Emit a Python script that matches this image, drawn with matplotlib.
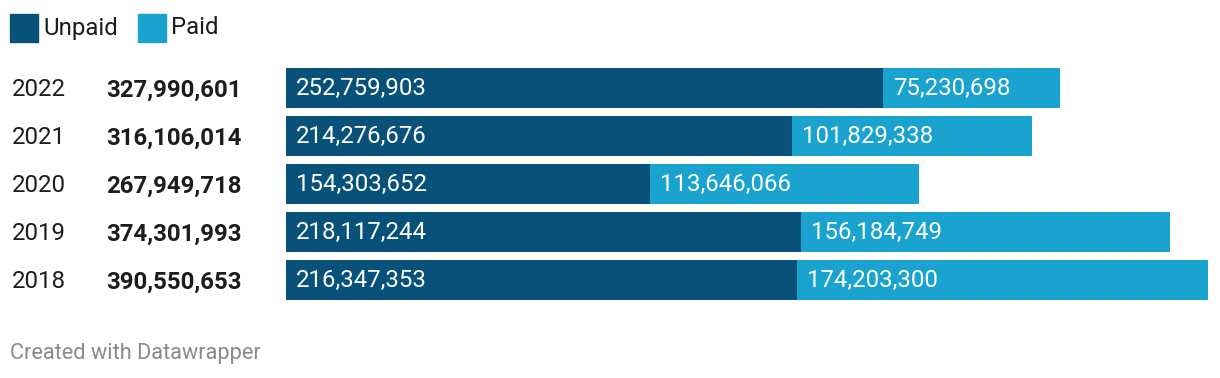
import matplotlib.pyplot as plt
from matplotlib.patches import Rectangle

plt.rcParams['font.family'] = ['Roboto', 'DejaVu Sans']

years = ['2022', '2021', '2020', '2019', '2018']
unpaid = [252759903, 214276676, 154303652, 218117244, 216347353]
paid = [75230698, 101829338, 113646066, 156184749, 174203300]
totals = [u + p for u, p in zip(unpaid, paid)]

dark = '#08527a'
light = '#1aa3cf'

W, H = 1220, 378
fig = plt.figure(figsize=(W / 100, H / 100), dpi=100)

# bar area in pixels
x0, x1 = 286, 1208
y_top, y_bot = 64, 304
ax = fig.add_axes([x0 / W, 1 - y_bot / H, (x1 - x0) / W, (y_bot - y_top) / H])
ax.set_xlim(0, max(totals))
ax.set_ylim(len(years) - 0.5, -0.5)
ax.axis('off')

ypos = range(len(years))
ax.barh(ypos, unpaid, height=0.83, color=dark)
ax.barh(ypos, paid, left=unpaid, height=0.83, color=light)

pad = max(totals) * 10 / (x1 - x0)
fs = 17.3
for i, (u, p) in enumerate(zip(unpaid, paid)):
    ax.text(pad, i, f'{u:,}', color='white', fontsize=fs, va='center', ha='left')
    ax.text(u + pad, i, f'{p:,}', color='white', fontsize=fs, va='center', ha='left')
    yf = 1 - (90 + 48 * i) / H
    fig.text(12 / W, yf, years[i], fontsize=fs, color='#1d1d1d', va='center')
    fig.text(106 / W, yf, f'{totals[i]:,}', fontsize=fs, color='#1d1d1d',
             va='center', fontweight='bold')

# legend
for lx, label, col in [(10, 'Unpaid', dark), (138, 'Paid', light)]:
    fig.patches.append(Rectangle((lx / W, 1 - 42 / H), 28 / W, 28 / H,
                                 transform=fig.transFigure, color=col))
    fig.text((lx + 33) / W, 1 - 28 / H, label, fontsize=fs, color='#1d1d1d', va='center')

fig.text(10 / W, 1 - 354 / H, 'Created with Datawrapper', fontsize=15.7, color='#8a8a8a',
         va='center')

fig.savefig('out.png', dpi=100)
